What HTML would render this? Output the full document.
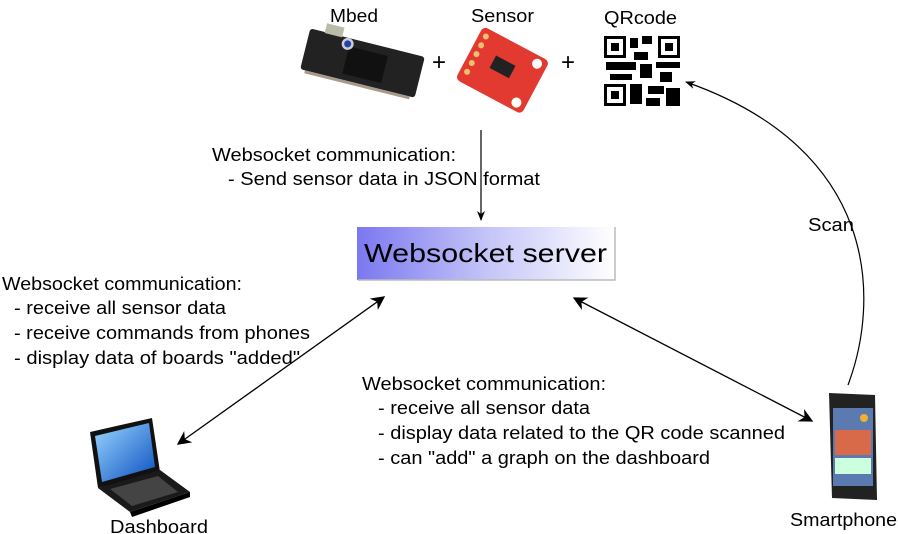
<!DOCTYPE html>
<html><head><style>
body{margin:0;background:#fff;}
svg{display:block;font-family:"Liberation Sans",sans-serif;}
</style></head><body>
<svg width="898" height="534" viewBox="0 0 898 534" xmlns="http://www.w3.org/2000/svg">
<defs>
<linearGradient id="g" x1="0" x2="1"><stop offset="0" stop-color="#7a78f0"/><stop offset="0.5" stop-color="#c4c4f8"/><stop offset="1" stop-color="#fff"/></linearGradient>
<linearGradient id="scr" x1="0" y1="0" x2="1" y2="1"><stop offset="0" stop-color="#9ad6ff"/><stop offset="1" stop-color="#0a4fc0"/></linearGradient>
<marker id="a" viewBox="0 0 10 10" refX="9" refY="5" markerWidth="10" markerHeight="10" orient="auto-start-reverse" markerUnits="userSpaceOnUse"><path d="M0,1 L10,5 L0,9 L3,5z" fill="#000"/></marker>
<marker id="b" viewBox="0 0 10 10" refX="9" refY="5" markerWidth="16" markerHeight="14" orient="auto-start-reverse" markerUnits="userSpaceOnUse"><path d="M0,0 L10,5 L0,10 L3,5z" fill="#000"/></marker>
</defs>
<g font-size="18" fill="#000">
<text x="330" y="22" textLength="48" lengthAdjust="spacingAndGlyphs">Mbed</text>
<text x="471" y="22" textLength="63" lengthAdjust="spacingAndGlyphs">Sensor</text>
<text x="604" y="24" textLength="73" lengthAdjust="spacingAndGlyphs">QRcode</text>
<text x="432" y="70" font-size="24">+</text>
<text x="561" y="70" font-size="24">+</text>
</g>
<!-- mbed -->
<g transform="rotate(14 362 65)">
<rect x="303" y="42" width="118" height="42" rx="3" fill="#222"/>
<rect x="345" y="50" width="40" height="28" fill="#111"/>
<rect x="318" y="33" width="18" height="10" fill="#bba"/>
<circle cx="343" cy="48" r="6" fill="#ccd"/><circle cx="343" cy="48" r="3.5" fill="#24a"/>
<rect x="308" y="84" width="108" height="3" fill="#a98"/>
</g>
<!-- sensor -->
<g transform="rotate(28 502 70)">
<rect x="465" y="40" width="75" height="60" rx="5" fill="#e23a30"/>
<rect x="490" y="60" width="22" height="14" fill="#222"/>
<g fill="#e8c070"><circle cx="472" cy="48" r="3"/><circle cx="472" cy="58" r="3"/><circle cx="472" cy="68" r="3"/><circle cx="472" cy="78" r="3"/><circle cx="472" cy="88" r="3"/></g>
<circle cx="530" cy="48" r="5" fill="#fff"/><circle cx="530" cy="92" r="5" fill="#fff"/>
</g>
<!-- QR -->
<g>
<g fill="#000">
<rect x="604" y="36" width="22" height="22"/><rect x="658" y="36" width="22" height="22"/><rect x="604" y="84" width="22" height="22"/>
<rect x="630" y="38" width="8" height="10"/><rect x="642" y="36" width="10" height="8"/><rect x="634" y="52" width="14" height="8"/>
<rect x="606" y="62" width="30" height="8"/><rect x="640" y="64" width="12" height="14"/><rect x="656" y="62" width="24" height="6"/>
<rect x="610" y="74" width="22" height="6"/><rect x="660" y="72" width="12" height="10"/><rect x="630" y="84" width="12" height="20"/>
<rect x="648" y="86" width="16" height="8"/><rect x="666" y="88" width="14" height="18"/><rect x="646" y="98" width="14" height="8"/>
</g>
<g fill="#fff"><rect x="607" y="39" width="16" height="16"/><rect x="661" y="39" width="16" height="16"/><rect x="607" y="87" width="16" height="16"/></g>
<g fill="#000"><rect x="611" y="43" width="8" height="8"/><rect x="665" y="43" width="8" height="8"/><rect x="611" y="91" width="8" height="8"/></g>
</g>
<!-- server -->
<rect x="357" y="227" width="258" height="53" fill="url(#g)"/>
<path d="M358,280 H615 V227" stroke="#bbb" fill="none" stroke-width="1.5"/>
<text x="364" y="262" font-size="26" fill="#000" textLength="243" lengthAdjust="spacingAndGlyphs">Websocket server</text>
<!-- arrows -->
<line x1="481" y1="130" x2="481" y2="220" stroke="#000" stroke-width="1.2" marker-end="url(#a)"/>
<line x1="384" y1="297" x2="178" y2="444" stroke="#000" stroke-width="1.3" marker-start="url(#b)" marker-end="url(#b)"/>
<line x1="574" y1="298" x2="812" y2="421" stroke="#000" stroke-width="1.3" marker-start="url(#b)" marker-end="url(#b)"/>
<path d="M848,385 C880,300 880,150 686,82" stroke="#000" stroke-width="1.2" fill="none" marker-end="url(#a)"/>
<g font-size="18" fill="#000">
<text x="212" y="161" textLength="244" lengthAdjust="spacingAndGlyphs">Websocket communication:</text>
<text x="228" y="185" textLength="312" lengthAdjust="spacingAndGlyphs">- Send sensor data in JSON format</text>
<text x="808" y="231" textLength="46" lengthAdjust="spacingAndGlyphs">Scan</text>
<text x="2" y="290" textLength="240" lengthAdjust="spacingAndGlyphs">Websocket communication:</text>
<text x="14" y="314" textLength="212" lengthAdjust="spacingAndGlyphs">- receive all sensor data</text>
<text x="14" y="339" textLength="296" lengthAdjust="spacingAndGlyphs">- receive commands from phones</text>
<text x="14" y="364" textLength="286" lengthAdjust="spacingAndGlyphs">- display data of boards "added"</text>
<text x="362" y="390" textLength="244" lengthAdjust="spacingAndGlyphs">Websocket communication:</text>
<text x="378" y="414" textLength="212" lengthAdjust="spacingAndGlyphs">- receive all sensor data</text>
<text x="378" y="439" textLength="407" lengthAdjust="spacingAndGlyphs">- display data related to the QR code scanned</text>
<text x="378" y="464" textLength="332" lengthAdjust="spacingAndGlyphs">- can "add" a graph on the dashboard</text>
<text x="110" y="533" textLength="98" lengthAdjust="spacingAndGlyphs">Dashboard</text>
<text x="790" y="526" textLength="107" lengthAdjust="spacingAndGlyphs">Smartphone</text>
</g>
<!-- laptop -->
<path d="M90,432 L152,418 L160,472 L98,488z" fill="#111"/>
<path d="M95,436 L149,423 L155,467 L102,482z" fill="url(#scr)"/>
<path d="M98,488 L160,470 L190,492 L130,512z" fill="#1a1a1a"/>
<path d="M110,489 L158,476 L178,492 L132,506z" fill="#444"/>
<path d="M130,512 L190,492 L190,497 L132,517z" fill="#000"/>
<!-- phone -->
<g>
<path d="M829,393 L875,395 L877,500 L832,498z" fill="#222"/>
<rect x="833" y="408" width="40" height="78" fill="#5a7ab0"/>
<rect x="835" y="430" width="36" height="25" fill="#d86a4a"/>
<rect x="835" y="458" width="36" height="16" fill="#cfd"/>
<circle cx="864" cy="418" r="4" fill="#f4b030"/>
</g>
</svg>
</body></html>
